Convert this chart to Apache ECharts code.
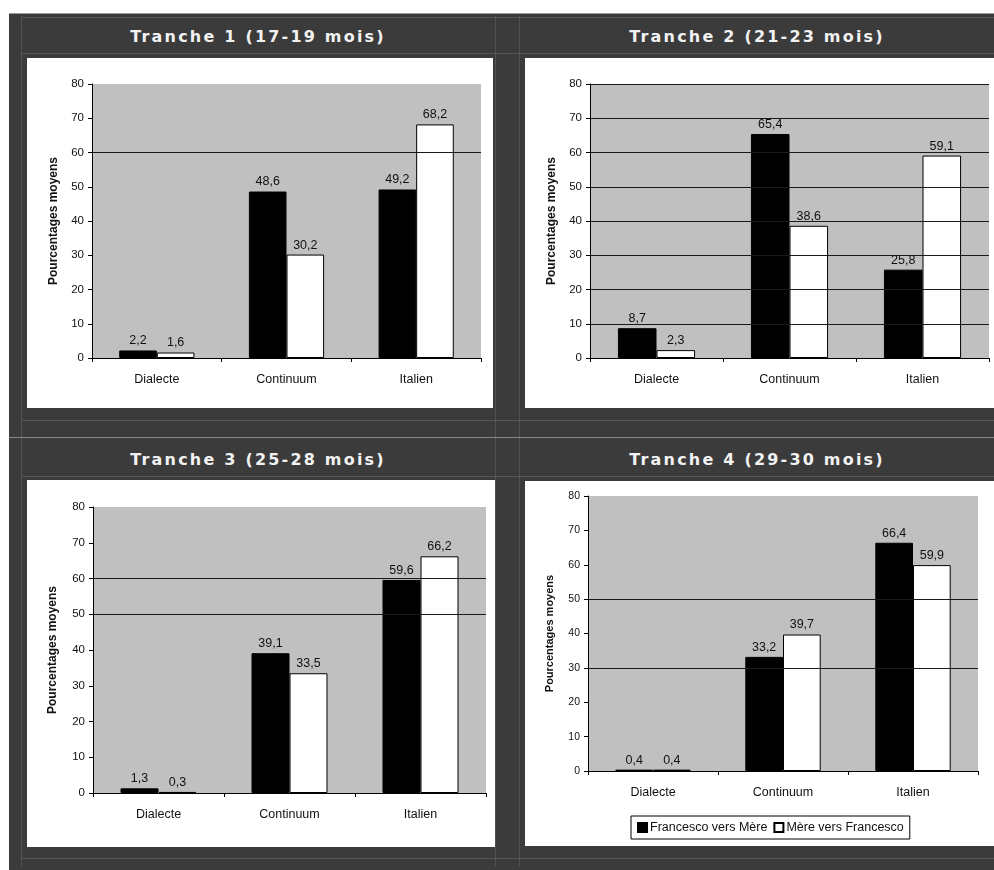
<!DOCTYPE html>
<html>
<head>
<meta charset="utf-8">
<script src="https://cdn.jsdelivr.net/npm/echarts@6/dist/echarts.min.js"></script>
<style>
  html, body { margin: 0; padding: 0; background: #ffffff; }
  #page { position: relative; width: 994px; height: 870px; overflow: hidden; background: #ffffff; }
  .dark { position: absolute; left: 9px; top: 13px; width: 985px; height: 857px; background: #3b3b3b; border-top: 1px solid #9a9a9a; box-sizing: border-box; }
  .hl { position: absolute; height: 1px; background: #575757; }
  .vl { position: absolute; width: 1px; background: #525252; }
  .box { position: absolute; background: #ffffff; }
  .ttl { position: absolute; width: 470px; text-align: center; color: #f2f2f2;
         font-family: "DejaVu Sans", sans-serif; font-weight: bold; font-size: 16px;
         letter-spacing: 2.2px; line-height: 20px; }
  #chart { position: absolute; left: 0; top: 0; width: 994px; height: 870px; }
</style>
</head>
<body>
<div id="page">
  <div class="dark"></div>
  <!-- faint frame lines of the four panels -->
  <div class="vl" style="left:21px;top:16px;height:850px;"></div>
  <div class="vl" style="left:495px;top:16px;height:850px;"></div>
  <div class="vl" style="left:519px;top:16px;height:850px;"></div>
  <div class="hl" style="left:21px;top:17px;width:973px;"></div>
  <div class="hl" style="left:21px;top:53px;width:973px;"></div>
  <div class="hl" style="left:21px;top:420px;width:973px;"></div>
  <div class="hl" style="left:9px;top:437px;width:985px;background:#8a8a8a;"></div>
  <div class="hl" style="left:21px;top:476px;width:973px;"></div>
  <div class="hl" style="left:21px;top:858px;width:973px;"></div>

  <!-- white chart cards -->
  <div class="box" style="left:27px;top:58px;width:466px;height:350px;"></div>
  <div class="box" style="left:525px;top:58px;width:469px;height:350px;"></div>
  <div class="box" style="left:27px;top:480px;width:468px;height:367px;"></div>
  <div class="box" style="left:525px;top:481px;width:469px;height:365px;"></div>

  <!-- panel titles -->
  <div class="ttl" style="left:23px;top:27px;">Tranche 1 (17-19 mois)</div>
  <div class="ttl" style="left:522px;top:27px;">Tranche 2 (21-23 mois)</div>
  <div class="ttl" style="left:23px;top:450px;">Tranche 3 (25-28 mois)</div>
  <div class="ttl" style="left:522px;top:450px;">Tranche 4 (29-30 mois)</div>

  <div id="chart"></div>
</div>
<script>
// Categories and series names
const categories = ['Dialecte', 'Continuum', 'Italien'];
const seriesNames = ['Francesco vers Mère', 'Mère vers Francesco'];

// Mean percentages per age range: [Francesco -> mother, mother -> Francesco]
const tranche1Francesco = [2.2, 48.6, 49.2];
const tranche1Mere = [1.6, 30.2, 68.2];
const tranche2Francesco = [8.7, 65.4, 25.8];
const tranche2Mere = [2.3, 38.6, 59.1];
const tranche3Francesco = [1.3, 39.1, 59.6];
const tranche3Mere = [0.3, 33.5, 66.2];
const tranche4Francesco = [0.4, 33.2, 66.4];
const tranche4Mere = [0.4, 39.7, 59.9];

// Horizontal reference lines drawn on each plot
const refLines1 = [60];
const refLines2 = [10, 20, 30, 40, 50, 60, 70, 80];
const refLines3 = [50, 60];
const refLines4 = [30, 50];

// Y axis tick values
const yMin = 0, yMax = 80, yStep = 10;
const yAxisTitle = 'Pourcentages moyens';

const panels = [
  { fr: tranche1Francesco, me: tranche1Mere, lines: refLines1,
    grid: { left: 92, top: 84, width: 389, height: 274 }, nameGap: 32, small: false },
  { fr: tranche2Francesco, me: tranche2Mere, lines: refLines2,
    grid: { left: 590, top: 84, width: 399, height: 274 }, nameGap: 32, small: false },
  { fr: tranche3Francesco, me: tranche3Mere, lines: refLines3,
    grid: { left: 93, top: 507, width: 393, height: 286 }, nameGap: 34, small: false },
  { fr: tranche4Francesco, me: tranche4Mere, lines: refLines4,
    grid: { left: 588, top: 496, width: 390, height: 275 }, nameGap: 33, small: true }
];

const FONT = '"Liberation Sans", Arial, sans-serif';
const fmt = v => String(v).replace('.', ',');

const grids = [], xAxes = [], yAxes = [], series = [];
panels.forEach((p, i) => {
  grids.push(Object.assign({
    show: true, backgroundColor: '#c0c0c0', borderWidth: 0, containLabel: false
  }, p.grid));
  xAxes.push({
    type: 'category', gridIndex: i, data: categories,
    axisLine: { lineStyle: { color: '#000', width: 1 } },
    axisTick: { show: true, length: 4, lineStyle: { color: '#000' } },
    axisLabel: { color: '#111', fontFamily: FONT, fontSize: 12.5, margin: 15 },
    splitLine: { show: false }
  });
  yAxes.push({
    type: 'value', gridIndex: i, min: yMin, max: yMax, interval: yStep,
    name: yAxisTitle, nameLocation: 'middle', nameGap: p.nameGap,
    nameTextStyle: { fontFamily: FONT, fontWeight: 'bold', fontSize: p.small ? 11 : 12, color: '#111' },
    axisLine: { show: true, lineStyle: { color: '#000', width: 1 } },
    axisTick: { show: true, length: 4, inside: false, lineStyle: { color: '#000' } },
    axisLabel: { color: '#111', fontFamily: FONT, fontSize: p.small ? 10.5 : 11.5, margin: 8 },
    splitLine: { show: false }
  });
  // reference lines sit behind the bars
  series.push({
    type: 'line', xAxisIndex: i, yAxisIndex: i, data: [], z: 1, silent: true,
    markLine: {
      silent: true, symbol: ['none', 'none'], label: { show: false },
      lineStyle: { color: '#1a1a1a', width: 1, type: 'solid' },
      emphasis: { disabled: true },
      data: p.lines.map(v => ({ yAxis: v }))
    }
  });
  const label = {
    show: true, position: 'top', distance: 3, color: '#111',
    fontFamily: FONT, fontSize: 12.5, formatter: d => fmt(d.value)
  };
  series.push({
    name: seriesNames[0], type: 'bar', xAxisIndex: i, yAxisIndex: i, data: p.fr, z: 3,
    barGap: '0%', barCategoryGap: '42%',
    itemStyle: { color: '#000000', borderColor: '#000000', borderWidth: 1 },
    label: label
  });
  series.push({
    name: seriesNames[1], type: 'bar', xAxisIndex: i, yAxisIndex: i, data: p.me, z: 3,
    barGap: '0%', barCategoryGap: '42%',
    itemStyle: { color: '#ffffff', borderColor: '#000000', borderWidth: 1 },
    label: label
  });
});

const chart = echarts.init(document.getElementById('chart'), null, { renderer: 'canvas' });
chart.setOption({
  animation: false,
  backgroundColor: 'transparent',
  grid: grids,
  xAxis: xAxes,
  yAxis: yAxes,
  legend: {
    data: seriesNames, left: 631, top: 816, orient: 'horizontal',
    icon: 'rect', itemWidth: 9, itemHeight: 9, itemGap: 6,
    padding: [5, 6], borderColor: '#000', borderWidth: 1, backgroundColor: '#fff',
    selectedMode: false,
    textStyle: { fontFamily: FONT, fontSize: 12.5, color: '#111', padding: [0, 0, 0, -2] }
  },
  series: series
});
</script>
</body>
</html>
